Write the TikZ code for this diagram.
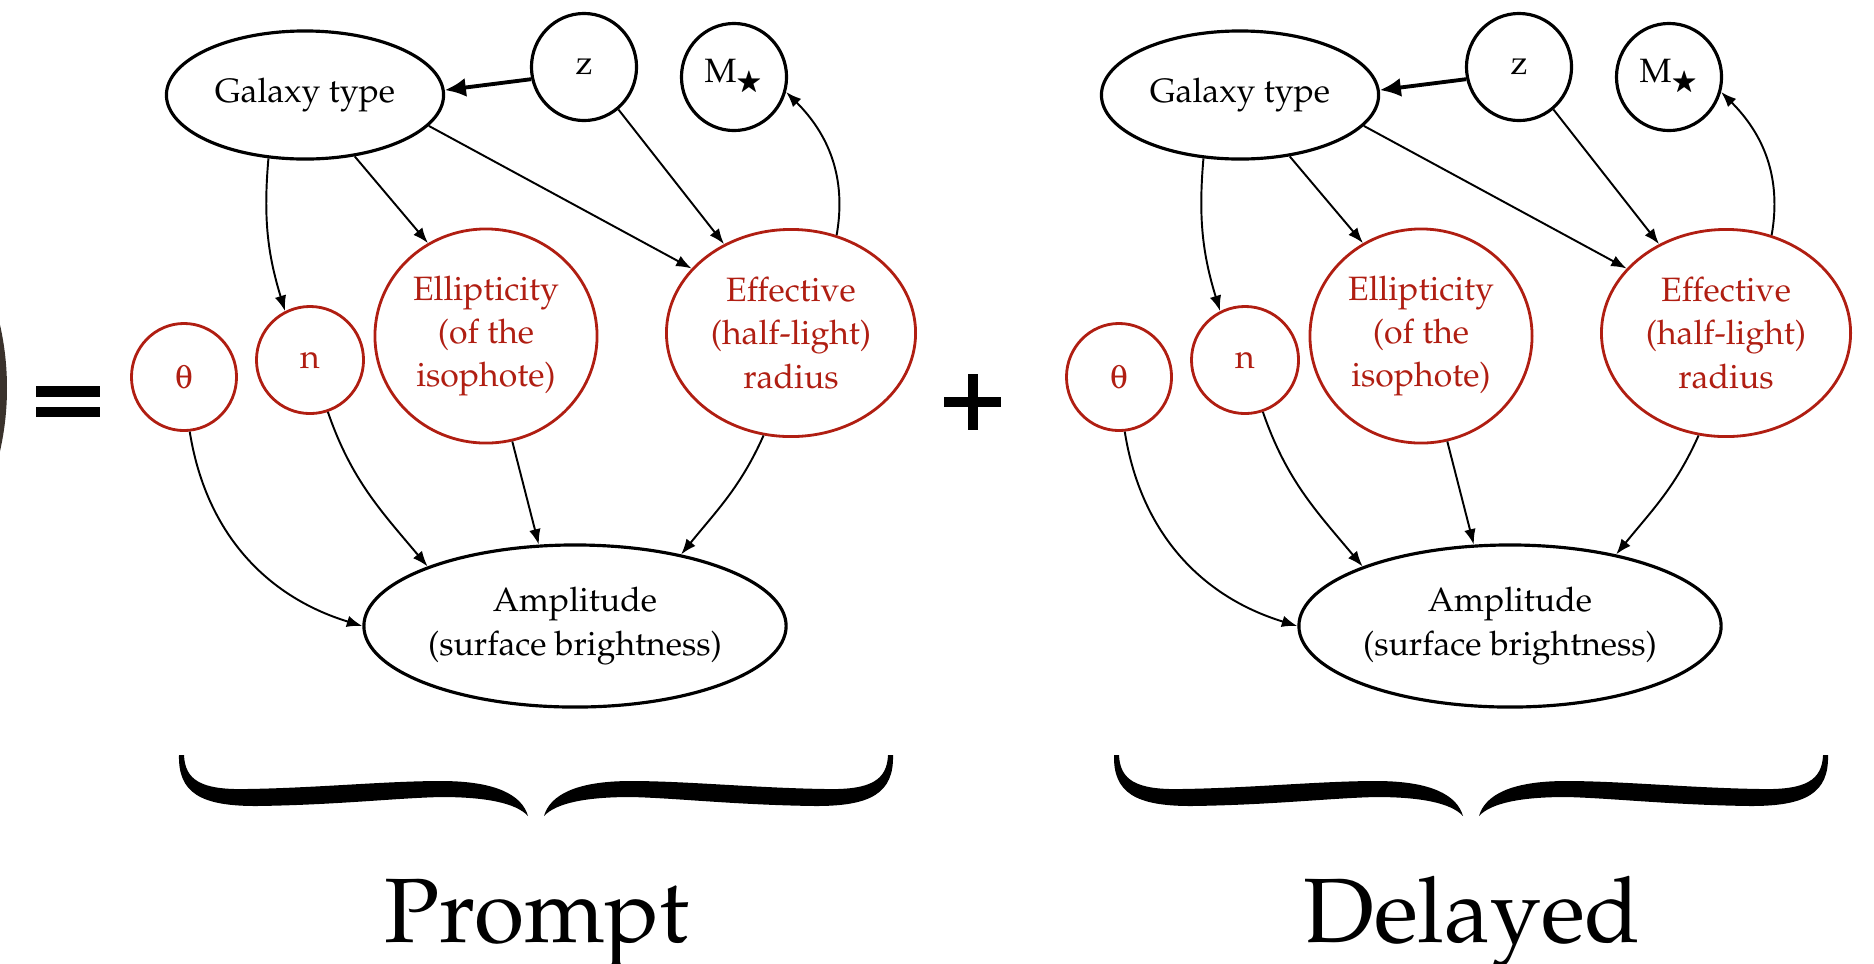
\documentclass[tikz,border=0pt]{standalone}
\usepackage[T1]{fontenc}
\usepackage{mathpazo}
\usepackage{amssymb}
\usepackage[Symbol]{upgreek}
\usetikzlibrary{shapes.geometric,arrows.meta}

\definecolor{nodered}{RGB}{176,30,18}
\definecolor{galaxyedge}{RGB}{58,50,44}
\newcommand{\nodefont}{\fontsize{9.6}{12.3}\selectfont}
\newcommand{\halfbrace}{(-357,0) .. controls (-358,38) and (-335,51) .. (-280,51)
  .. controls (-200,50) and (-140,43) .. (-95,42)
  .. controls (-50,42) and (-20,48) .. (-8,61)
  .. controls (-14,40) and (-40,26) .. (-95,26)
  .. controls (-150,26) and (-220,33) .. (-290,34)
  .. controls (-335,35) and (-351,25) .. (-352,0) -- cycle}

\tikzset{
  blacknode/.style={ellipse, draw, line width=0.9pt, inner sep=0pt, align=center, font=\nodefont},
  rednode/.style={ellipse, draw=nodered, text=nodered, line width=0.8pt, inner sep=0pt, align=center, font=\nodefont},
  link/.style={-{Latex[length=4.4pt,width=3.3pt]}, line width=0.55pt},
  biglink/.style={-{Latex[length=6pt,width=5.4pt]}, line width=1.1pt},
  curlybrace/.pic={
    \fill \halfbrace;
    \fill[xscale=-1] \halfbrace;
  },
}

\begin{document}
\begin{tikzpicture}[x=0.01cm, y=-0.01cm]
  \useasboundingbox (0,0) rectangle (1874,963);
  \clip (0,0) rectangle (1874,963);

  % edge of the galaxy picture, and the signs
  \fill[galaxyedge] (-280,388) circle[radius=287];
  \fill (36,386) rectangle (100,397);
  \fill (36,407) rectangle (100,417);
  \fill (944,397) rectangle (1001,407);
  \fill (968,374) rectangle (978,430);

  \foreach \pn/\dx/\lbl in {P/0/Prompt,D/935/Delayed}{
  \begin{scope}[shift={(\dx,0)}]
    \draw
      (305,95) node[blacknode, minimum width=2.77cm, minimum height=1.28cm] (gal\pn){Galaxy type}
      (584,67) node[blacknode, minimum width=1.05cm, minimum height=1.07cm] (z\pn){z}
      (734,77) node[blacknode, minimum width=1.05cm, minimum height=1.07cm] (ms\pn){M$_\bigstar$}
      (184,377) node[rednode, minimum width=1.05cm, minimum height=1.07cm] (th\pn){$\uptheta$}
      (310,360) node[rednode, minimum width=1.07cm, minimum height=1.07cm] (n\pn){n}
      (486,336) node[rednode, minimum width=2.22cm, minimum height=2.14cm] (ell\pn){Ellipticity\\(of the\\isophote)}
      (791,333) node[rednode, minimum width=2.49cm, minimum height=2.07cm] (eff\pn){Effective\\(half-light)\\radius}
      (575,626) node[blacknode, minimum width=4.22cm, minimum height=1.62cm] (amp\pn){Amplitude\\(surface brightness)};
    \draw[biglink] (z\pn.193) to (gal\pn.2);
    \begin{scope}[link]
      \draw (gal\pn.-120) to[out=-95,in=107] (n\pn.117);
      \draw (gal\pn.-51) to (ell\pn.122);
      \draw (gal\pn.-14) to (eff\pn.147);
      \draw (z\pn.-51) to (eff\pn.127);
      \draw (eff\pn.65) to[out=80,in=-45] (ms\pn.-16);
      \draw (th\pn.-84) to[out=-81,in=163] (amp\pn.180);
      \draw (n\pn.-71) to[out=-71,in=130] (amp\pn.158);
      \draw (ell\pn.-76) to (amp\pn.114);
      \draw (eff\pn.-105) to[out=-114,in=51] (amp\pn.34);
    \end{scope}
    \pic at (536,755) {curlybrace};
    \node[anchor=base, inner sep=0pt, font=\fontsize{26}{30}\selectfont] (lbl\pn) at (537,942) {\lbl};
  \end{scope}
  }
\end{tikzpicture}
\end{document}
